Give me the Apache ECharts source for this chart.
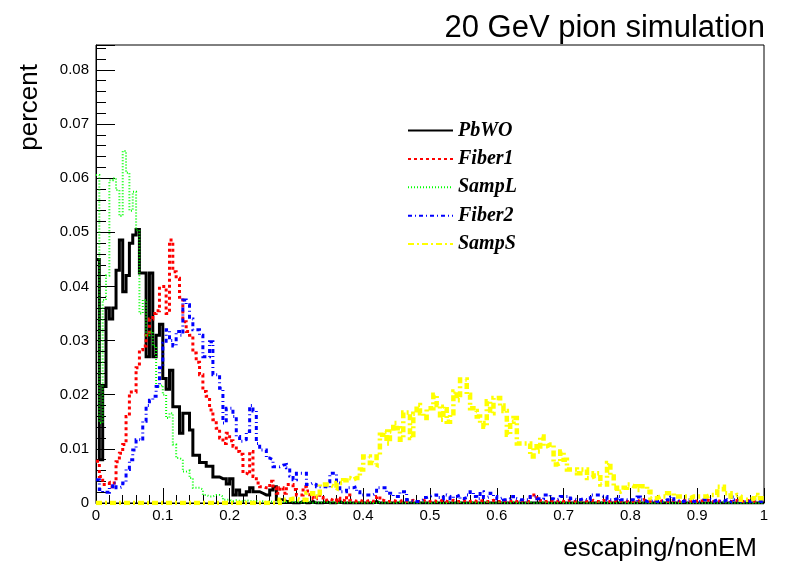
<!DOCTYPE html>
<html>
<head>
<meta charset="utf-8">
<title>20 GeV pion simulation</title>
<script src="https://cdn.jsdelivr.net/npm/echarts@6/dist/echarts.min.js"></script>
<style>
html,body{margin:0;padding:0;background:#fff;}
#myChart{width:796px;height:572px;}
</style>
</head>
<body>
<div id="myChart"></div>
<script>
// histogram binning: 200 bins over [0,1]
var binWidth = 0.005;
var xTicks = ['0','0.1','0.2','0.3','0.4','0.5','0.6','0.7','0.8','0.9','1'];
var yTicks = ['0','0.01','0.02','0.03','0.04','0.05','0.06','0.07','0.08'];
var names = ['PbWO','Fiber1','SampL','Fiber2','SampS'];

var pbwo = [
0.045,0.008,0.0215,0.036,0.034,0.036,0.043,0.0486,0.039,0.042,
0.048,0.0495,0.0505,0.0425,0.0425,0.027,0.0425,0.027,0.031,0.033,
0.023,0.021,0.0245,0.0178,0.0178,0.0129,0.0166,0.0166,0.0135,0.0088,
0.0088,0.0075,0.0075,0.0068,0.0068,0.0048,0.0048,0.0045,0.0045,0.0035,
0.0045,0.0015,0.0024,0.0015,0.0015,0.0021,0.0028,0.0021,0.0021,0.0018,
0.0015,0.0015,0.0024,0.003,0.0006,0.0006,0.0003,0.0003,0,0,
0,0.0003,0,0,0.0003,0,0,0,0.0003,0,
0,0,0.0003,0,0,0,0,0,0,0,
0,0,0,0.0003,0,0,0,0,0,0,
0,0,0,0,0,0,0,0,0,0,
0,0,0,0,0,0,0,0,0,0,
0,0,0,0,0,0,0,0,0,0,
0,0,0,0,0,0,0,0,0,0,
0,0,0,0,0,0,0,0,0,0,
0,0,0,0,0,0,0,0,0,0,
0,0,0,0,0,0,0,0,0,0,
0,0,0,0,0,0,0,0,0,0,
0,0,0,0,0,0,0,0,0,0,
0,0,0,0,0,0,0,0,0,0,
0,0,0,0,0,0,0,0,0,0
];
var fiber1 = [
0.0077,0.0049,0.0034,0.0037,0.003,0.0037,0.0076,0.0092,0.0108,0.016,
0.0205,0.0205,0.025,0.0283,0.029,0.031,0.034,0.035,0.0355,0.04,
0.04,0.035,0.0486,0.0427,0.0415,0.038,0.0335,0.0317,0.031,0.0277,
0.026,0.0237,0.0206,0.0197,0.0172,0.0154,0.0138,0.012,0.011,0.0129,
0.0115,0.0105,0.0095,0.009,0.0055,0.0052,0.0095,0.0049,0.0037,0.003,
0.0028,0.0028,0.004,0.0028,0.0018,0.0028,0.0018,0.0034,0.0034,0.0025,
0.0015,0.0015,0.003,0.0022,0.0012,0.0008,0.0015,0.001,0.0005,0.0008,
0.0005,0.0003,0.0009,0.0005,0.0003,0.0015,0.0005,0.0003,0.0005,0.0003,
0.0003,0.0005,0.0003,0.0005,0.0012,0.0005,0.0003,0.0003,0.0005,0.0003,
0.0003,0.0005,0.0003,0.0003,0.0005,0.0003,0.0003,0.0005,0.0003,0.0003,
0.0005,0.0003,0.0003,0.0006,0.0003,0.0003,0.0005,0.0003,0.0003,0.0005,
0.0003,0.0003,0.0005,0.0003,0.0003,0.0005,0.0003,0.0003,0.0005,0.0003,
0.0003,0.0005,0.0003,0.0003,0.0005,0.0003,0.0003,0.0005,0.0003,0.0003,
0.0015,0.0015,0.0005,0.0003,0.0003,0.0005,0.0003,0.0003,0.0005,0.0003,
0.0003,0.0005,0.0003,0.0003,0.0005,0.0006,0.0003,0.0003,0.0005,0.0003,
0.0003,0.0005,0.0003,0.0003,0.0005,0.0003,0.0003,0.0005,0.0003,0.0003,
0.0003,0.0005,0.0003,0.0006,0.0003,0.0003,0.0005,0.0003,0.0003,0.0005,
0.0003,0.0003,0.0005,0.0003,0.0003,0.0005,0.0003,0.0003,0.0005,0.0003,
0.0003,0.0005,0.0006,0.0003,0.0003,0.0005,0.0003,0.0003,0.0005,0.0003,
0.0003,0.0005,0.0003,0.0003,0.0005,0.0003,0.0003,0.0005,0.0006,0.0003
];
var sampL = [
0.0606,0.0148,0.0375,0.042,0.0596,0.06,0.0578,0.053,0.065,0.061,
0.054,0.0575,0.0504,0.035,0.0375,0.031,0.0317,0.029,0.0215,0.0218,
0.02,0.0157,0.0166,0.0108,0.0083,0.008,0.0058,0.006,0.0046,0.0028,
0.0028,0.0025,0.0015,0.0012,0.0012,0.0015,0.0015,0.0012,0.0006,0.0006,
0.0003,0.0005,0.0004,0.0003,0.0005,0.0004,0.0003,0.0004,0.0002,0.0003,
0.0002,0.0003,0.0002,0.0002,0.0003,0.0002,0.0002,0.0003,0.0002,0.0002,
0.0002,0,0.0002,0.0002,0,0.0002,0,0.0002,0.0002,0,
0.0002,0,0,0.0002,0,0.0002,0,0,0.0002,0,
0,0.0002,0,0,0.0002,0,0,0.0002,0,0,
0.0002,0,0,0.0002,0,0,0,0.0002,0,0,
0,0.0002,0,0,0,0.0002,0,0,0.0002,0,
0,0,0.0002,0,0,0,0.0002,0,0,0,
0.0002,0,0,0,0.0002,0,0,0,0,0.0002,
0,0,0,0.0002,0,0,0,0,0.0002,0,
0,0,0,0,0.0002,0,0,0,0,0,
0.0002,0,0,0,0,0,0.0002,0,0,0,
0,0,0.0002,0,0,0,0,0,0,0.0002,
0,0,0,0,0,0.0002,0,0,0,0,
0,0,0,0,0,0,0,0.0002,0,0,
0,0,0,0,0,0,0,0,0,0
];
var fiber2 = [
0.0043,0.0025,0.002,0.002,0.003,0.0037,0.0028,0.003,0.0037,0.0062,
0.008,0.0098,0.0117,0.0115,0.0151,0.018,0.019,0.0197,0.0215,0.025,
0.0295,0.032,0.03,0.029,0.0317,0.031,0.0375,0.0366,0.034,0.032,
0.032,0.031,0.027,0.027,0.0298,0.0237,0.0237,0.0212,0.0148,0.0175,
0.0175,0.016,0.0123,0.0114,0.0117,0.0132,0.018,0.017,0.011,0.0098,
0.0098,0.0083,0.008,0.0067,0.0067,0.007,0.0071,0.0065,0.005,0.0043,
0.0055,0.0055,0.0055,0.0034,0.0037,0.0034,0.003,0.003,0.003,0.0028,
0.0055,0.0055,0.0037,0.0021,0.0021,0.0028,0.0028,0.003,0.0021,0.0015,
0.0015,0.0015,0.0015,0.0018,0.0028,0.0028,0.0028,0.0018,0.0018,0.0012,
0.0012,0.0021,0.0021,0.0006,0.0003,0.0003,0.0003,0.0006,0.001,0.0012,
0.0015,0.0015,0.001,0.0008,0.0015,0.0012,0.0008,0.0012,0.0015,0.0008,
0.001,0.0015,0.0021,0.0012,0.0008,0.0021,0.001,0.0012,0.0018,0.0012,
0.0008,0.001,0.0006,0.0008,0.0012,0.0008,0.0006,0.0006,0.0006,0.0006,
0.0012,0.0012,0.0008,0.0008,0.0015,0.0015,0.0008,0.0006,0.0008,0.0012,
0.0012,0.0012,0.0008,0.0006,0.0006,0.0008,0.0006,0.0006,0.0015,0.0015,
0.0015,0.0012,0.0012,0.0006,0.0006,0.0008,0.0012,0.0006,0.0006,0.0006,
0.0006,0.0003,0.0011,0.0006,0.0003,0.0003,0.0006,0.0003,0.0003,0.0003,
0.0006,0.0006,0.0011,0.0006,0.0003,0.0003,0.0006,0.0006,0.0003,0.0003,
0.0003,0.0006,0.0006,0.0006,0.0003,0.0006,0.0003,0.0003,0.0006,0.0003,
0.0011,0.0006,0.0003,0.0003,0.0003,0.0003,0.0006,0.0006,0.0003,0.0003
];
var sampS = [
0,0,0,0,0,0,0,0,0,0,
0,0,0,0,0,0,0,0,0,0,
0,0,0,0,0,0,0,0,0,0,
0,0,0,0,0,0,0,0,0,0,
0,0,0,0,0,0,0,0,0,0,
0,0,0,0,0,0.0006,0.0006,0.0006,0.0008,0.0008,
0.0006,0.0006,0.0006,0.0018,0.0018,0.0012,0.0012,0.0034,0.0034,0.0034,
0.0031,0.0028,0.0037,0.0037,0.0042,0.0046,0.0043,0.0046,0.0046,0.0062,
0.0086,0.0086,0.0074,0.0071,0.0086,0.0126,0.0132,0.011,0.0132,0.0148,
0.0138,0.0117,0.0167,0.0167,0.012,0.0165,0.0181,0.0166,0.0157,0.0175,
0.0175,0.02,0.0181,0.0154,0.0178,0.015,0.0166,0.0206,0.019,0.0228,
0.0228,0.02,0.0175,0.017,0.016,0.0148,0.0141,0.0188,0.0166,0.0194,
0.0194,0.018,0.017,0.0126,0.015,0.0157,0.011,0.011,0.011,0.011,
0.0086,0.0105,0.0095,0.0123,0.0105,0.0108,0.0108,0.0071,0.0074,0.0095,
0.008,0.0062,0.0062,0.0062,0.0055,0.0062,0.0062,0.0046,0.0049,0.0055,
0.0055,0.0034,0.0034,0.0074,0.0049,0.0028,0.0021,0.0024,0.0028,0.0034,
0.0031,0.0031,0.0024,0.0031,0.0031,0.0021,0.0009,0.0009,0.0012,0.0012,
0.0012,0.0018,0.0018,0.0012,0.0012,0.0012,0.0012,0.0009,0.0012,0.0012,
0.0012,0.0012,0.0012,0.0015,0.0015,0.0015,0.003,0.003,0.0018,0.0018,
0.0012,0.0015,0.0012,0.0006,0.0006,0.0006,0.0008,0.0015,0.0009,0.0009
];

// step histogram: one point per bin low edge, plus closing point at the last edge
function histData(vals){
	var out = [];
	for (var i = 0; i < vals.length; i++) out.push([i * binWidth, vals[i]]);
	out.push([vals.length * binWidth, vals[vals.length - 1]]);
	return out;
}

function histSeries(name, vals, color, width, dash){
	return {
		name: name,
		type: 'line',
		step: 'end',
		symbol: 'none',
		data: histData(vals),
		lineStyle: { color: color, width: width, type: dash, cap: 'butt', join: 'miter' },
		itemStyle: { color: color },
		z: 2
	};
}

var option = {
	animation: false,
	backgroundColor: '#fff',
	title: {
		text: '20 GeV pion simulation',
		right: 26,
		top: 8,
		textStyle: { fontFamily: 'Liberation Sans', fontWeight: 'normal', fontSize: 31, color: '#000' }
	},
	legend: {
		orient: 'vertical',
		left: 402,
		top: 115.5,
		itemWidth: 45,
		itemHeight: 18,
		itemGap: 8.4,
		data: names,
		itemStyle: { opacity: 0 },
		textStyle: { fontFamily: 'Liberation Serif', fontStyle: 'italic', fontWeight: 'bold', fontSize: 20, color: '#000', lineHeight: 20 }
	},
	grid: {
		left: 96, right: 32, top: 45, bottom: 69,
		show: true, borderColor: '#000', borderWidth: 1, backgroundColor: 'transparent'
	},
	xAxis: {
		type: 'value',
		min: 0, max: 1, interval: 0.1,
		axisLine: { lineStyle: { color: '#000', width: 1 } },
		axisTick: { inside: true, length: 15, lineStyle: { color: '#000' } },
		minorTick: { show: true, splitNumber: 5, length: 8, lineStyle: { color: '#000' } },
		splitLine: { show: false },
		axisLabel: {
			margin: 5, color: '#000', fontFamily: 'Liberation Sans', fontSize: 15,
			formatter: function(v){ return xTicks[Math.round(v * 10)]; }
		}
	},
	yAxis: {
		type: 'value',
		min: 0, max: 0.0846, interval: 0.01,
		axisLine: { show: true, lineStyle: { color: '#000', width: 1 } },
		axisTick: { show: true, inside: true, length: 19, lineStyle: { color: '#000' } },
		minorTick: { show: true, splitNumber: 5, length: 10, lineStyle: { color: '#000' } },
		splitLine: { show: false },
		axisLabel: {
			margin: 7, color: '#000', fontFamily: 'Liberation Sans', fontSize: 15, showMaxLabel: false,
			formatter: function(v){
				var k = Math.round(v * 100);
				return Math.abs(v * 100 - k) < 1e-6 ? (yTicks[k] || '') : '';
			}
		}
	},
	graphic: [
		{ type: 'text', x: 30, y: 64, rotation: Math.PI / 2,
		  style: { text: 'percent', font: '26px "Liberation Sans"', fill: '#000', textAlign: 'right', textVerticalAlign: 'middle' } },
		{ type: 'text', x: 757, y: 549,
		  style: { text: 'escaping/nonEM', font: '26px "Liberation Sans"', fill: '#000', textAlign: 'right', textVerticalAlign: 'middle' } }
	],
	series: [
		histSeries('PbWO', pbwo, '#000000', 3, 'solid'),
		histSeries('Fiber1', fiber1, '#ff0000', 3, [3, 3]),
		histSeries('SampL', sampL, '#00ff00', 2, [1, 2]),
		histSeries('Fiber2', fiber2, '#0000ff', 3, [4, 3, 1, 3]),
		histSeries('SampS', sampS, '#ffff00', 4.5, [6, 3, 2, 3])
	]
};
echarts.init(document.getElementById('myChart')).setOption(option);
</script>
</body>
</html>
